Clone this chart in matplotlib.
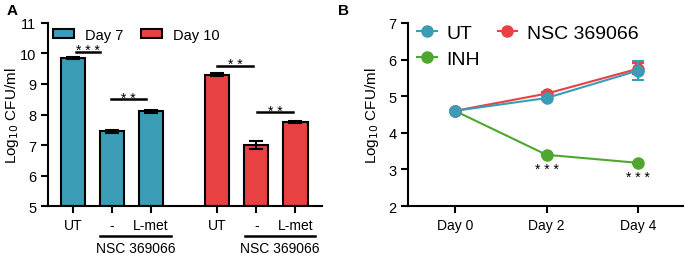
import matplotlib

matplotlib.use("Agg")
import matplotlib.pyplot as plt
from matplotlib.lines import Line2D
import numpy as np

plt.rcParams["font.family"] = ["Liberation Sans", "DejaVu Sans"]

# Panel A data
groups = ["UT", "-", "L-met"]
day7_mean = [9.85, 7.45, 8.10]
day7_err = [0.03, 0.04, 0.06]
day10_mean = [9.30, 7.00, 7.75]
day10_err = [0.05, 0.12, 0.04]

# Panel B data
days = ["Day 0", "Day 2", "Day 4"]
ut_mean = [4.60, 4.95, 5.70]
ut_err = [0.03, 0.05, 0.25]
nsc_mean = [4.60, 5.07, 5.75]
nsc_err = [0.03, 0.05, 0.15]
inh_mean = [4.60, 3.40, 3.18]
inh_err = [0.03, 0.03, 0.03]

TEAL = "#3a9db5"
RED = "#e84142"
GREEN = "#4ea72e"

fig = plt.figure(figsize=(6.85, 2.55), dpi=100)
ax_a = fig.add_axes([0.070, 0.188, 0.400, 0.718])
ax_b = fig.add_axes([0.596, 0.188, 0.401, 0.718])

for ax in (ax_a, ax_b):
    for side in ("top", "right"):
        ax.spines[side].set_visible(False)
    for side in ("left", "bottom"):
        ax.spines[side].set_linewidth(1.5)
    ax.tick_params(width=1.5, length=5, labelsize=10.5)
    ax.set_ylabel(r"Log$_{10}$ CFU/ml", fontsize=11)
    ax.yaxis.set_label_coords(-0.10, 0.5)

# ---- Panel A ----
pos7 = np.array([0.0, 1.0, 2.0])
pos10 = pos7 + 3.7
width = 0.62
ax_a.bar(pos7, np.array(day7_mean) - 5, width, bottom=5, color=TEAL,
         edgecolor="black", linewidth=1.5, label="Day 7", zorder=2)
ax_a.bar(pos10, np.array(day10_mean) - 5, width, bottom=5, color=RED,
         edgecolor="black", linewidth=1.5, label="Day 10", zorder=2)
ax_a.errorbar(pos7, day7_mean, yerr=day7_err, fmt="none", ecolor="black",
              elinewidth=1.5, capsize=5, capthick=1.5, zorder=3)
ax_a.errorbar(pos10, day10_mean, yerr=day10_err, fmt="none", ecolor="black",
              elinewidth=1.5, capsize=5, capthick=1.5, zorder=3)

ax_a.set_ylim(5, 11)
ax_a.set_xlim(-0.64, 6.38)
ax_a.set_yticks(range(5, 12))
ax_a.set_xticks(np.concatenate([pos7, pos10]), groups + groups, fontsize=10)

# significance bars
sig_a = [(0.08, 0.69, 10.05, "* * *"), (0.97, 1.86, 8.50, "* *"),
         (3.69, 4.62, 9.59, "* *"), (4.72, 5.64, 8.08, "* *")]
for x0, x1, y, txt in sig_a:
    ax_a.plot([x0, x1], [y, y], color="black", linewidth=1.8)
    ax_a.text((x0 + x1) / 2, y - 0.08, txt, ha="center", va="baseline",
              fontsize=10)

# NSC 369066 grouping lines below the axis
xt = ax_a.get_xaxis_transform()
for p in (pos7, pos10):
    ax_a.plot([p[1] - 0.3, p[2] + 0.5], [-0.165, -0.165], color="black",
              linewidth=1.8, transform=xt, clip_on=False)
    ax_a.text((p[1] + p[2]) / 2 + 0.1, -0.23, "NSC 369066", ha="center",
              va="center", fontsize=10, transform=xt)

ax_a.legend(loc="upper left", bbox_to_anchor=(0.018, 0.975), ncol=2,
            frameon=False, fontsize=10.5, handlelength=1.45, handleheight=0.62,
            columnspacing=1.2, handletextpad=0.75, borderpad=0,
            borderaxespad=0)

fig.text(0.01, 0.985, "A", fontsize=11, fontweight="bold", va="top")

# ---- Panel B ----
x = np.arange(len(days))
series_b = [("INH", inh_mean, inh_err, GREEN, 2),
            ("NSC 369066", nsc_mean, nsc_err, RED, 3),
            ("UT", ut_mean, ut_err, TEAL, 4)]
for name, mean, err, col, z in series_b:
    ax_b.errorbar(x, mean, yerr=err, color=col, marker="o", markersize=8,
                  linewidth=1.5, capsize=4, capthick=1.5, zorder=z)

ax_b.set_xlim(-0.51, 2.49)
ax_b.set_ylim(2, 7)
ax_b.set_yticks(range(2, 8))
ax_b.set_xticks(x, days, fontsize=10)

for xi, yi in zip(x[1:], inh_mean[1:]):
    ax_b.text(xi, yi - 0.2, "* * *", ha="center", va="top", fontsize=10)

legend_handles = [Line2D([], [], color=TEAL, marker="o", markersize=8, linewidth=1.5),
                  Line2D([], [], color=GREEN, marker="o", markersize=8, linewidth=1.5),
                  Line2D([], [], color=RED, marker="o", markersize=8, linewidth=1.5)]
ax_b.legend(legend_handles, ["UT", "INH", "NSC 369066"],
            loc="upper left", bbox_to_anchor=(0.033, 0.994), ncol=2,
            frameon=False, fontsize=14, handlelength=1.0,
            columnspacing=0.9, handletextpad=0.5, labelspacing=0.45,
            borderpad=0, borderaxespad=0)

fig.text(0.493, 0.985, "B", fontsize=11, fontweight="bold", va="top")

fig.savefig("out.png", dpi=100)
